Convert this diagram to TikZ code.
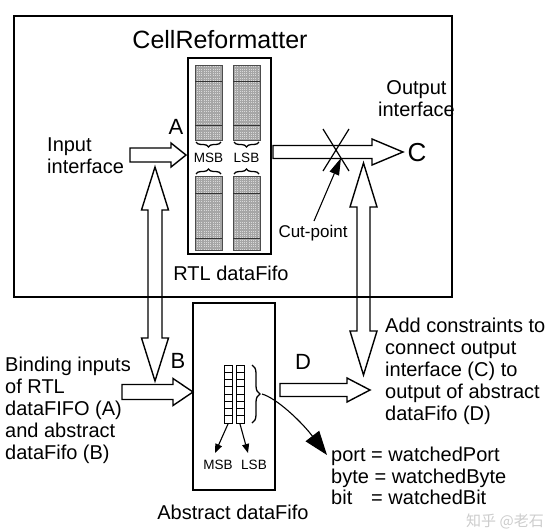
\documentclass[tikz,border=0pt]{standalone}
\usepackage{fontspec}
\setmainfont{Liberation Sans}
\newfontfamily\cjk{Noto Sans CJK SC}
\usetikzlibrary{arrows.meta,decorations.pathreplacing}

\newcommand\vdarrow[6]{% x ytop ybot shaft-half head-half head-len
  \draw[blk] (#1,#2) -- (#1+#5,#2+#6) -- (#1+#4,#2+#6) -- (#1+#4,#3-#6) -- (#1+#5,#3-#6) -- (#1,#3)
    -- (#1-#5,#3-#6) -- (#1-#4,#3-#6) -- (#1-#4,#2+#6) -- (#1-#5,#2+#6) -- cycle;}
\newcommand\rarrow[6]{% xstart xtip y shaft-half head-half head-len
  \draw[blk] (#1,#3-#4) -- (#2-#6,#3-#4) -- (#2-#6,#3-#5) -- (#2,#3) -- (#2-#6,#3+#5) -- (#2-#6,#3+#4) -- (#1,#3+#4) -- cycle;}
\newcommand\gridblock[4]{% x1 y1 x2 y2
  \fill[gray!30] (#1,#2) rectangle (#3,#4);
  \draw[gray!70, line width=0.2pt, step=1.8pt] (#1,#2) grid (#3,#4);
  \draw[gray!60!black, line width=0.6pt] (#1,#2) rectangle (#3,#4);}

\begin{document}
\begin{tikzpicture}[x=1pt,y=-1pt,
  blk/.style={draw, line width=1.4pt, line join=miter},
  txt/.style={font=\fontsize{20}{22}\selectfont, inner sep=0pt, align=left},
  letter/.style={font=\fontsize{22}{24}\selectfont, inner sep=0pt},
  small/.style={font=\fontsize{13.5}{15}\selectfont, inner sep=0pt},
  thickbox/.style={draw, line width=2.4pt},
  brc/.style={draw, line width=1.3pt, decorate},
  ptr/.style={draw, line width=1.1pt}]
\useasboundingbox (0,0) rectangle (558,531);

% outer CellReformatter box
\draw[line width=1.2pt] (14,16) rectangle (452,297);
\node[font=\fontsize{25}{27}\selectfont, inner sep=0pt] (title) at (220,40) {CellReformatter};

% RTL dataFifo
\draw[thickbox] (188,58) rectangle (271,254);
\gridblock{195}{65}{222}{140}
\gridblock{233}{65}{260}{140}
\gridblock{195}{176}{222}{250}
\gridblock{233}{176}{260}{250}
\foreach \yy in {81,125,193,238} {
  \draw[gray!40!black, line width=0.45pt] (195,\yy) -- (222,\yy);
  \draw[gray!40!black, line width=0.45pt] (233,\yy) -- (260,\yy);}
\draw[brc, decoration={brace, amplitude=5pt, mirror}] (196,142) -- (221,142);
\draw[brc, decoration={brace, amplitude=5pt, mirror}] (234,142) -- (259,142);
\draw[brc, decoration={brace, amplitude=5pt}] (196,174) -- (221,174);
\draw[brc, decoration={brace, amplitude=5pt}] (234,174) -- (259,174);
\node[small] (msbt) at (208.5,158) {MSB};
\node[small] (lsbt) at (246.5,158) {LSB};
\node[txt] (rtl) at (231,273) {RTL dataFifo};

\node[letter] (A) at (176,127) {A};
\node[txt, anchor=north west] (inp) at (47,138) {Input\\interface};
\rarrow{130}{186}{155}{7}{12}{15}

\node[txt, anchor=north, align=center] (outp) at (416.5,80) {Output\\interface};
\rarrow{273}{403}{152}{6.5}{13}{31}
\node[font=\fontsize{26}{28}\selectfont, inner sep=0pt] (C) at (417,153) {C};

% cut point
\coordinate (x1) at (323,129); \coordinate (x2) at (349,171);
\coordinate (x3) at (349,129); \coordinate (x4) at (323,171);
\draw[line width=1.2pt] (x1) -- (x2);
\draw[line width=1.2pt] (x3) -- (x4);
\node[font=\fontsize{17}{19}\selectfont, inner sep=0pt] (cut) at (313,233) {Cut-point};
\coordinate (cutstart) at (314,221);
\coordinate (cuttip) at (341,158);
\draw[ptr, -{Triangle[length=17pt,width=10pt]}] (cutstart) -- (cuttip);

% vertical double arrows
\vdarrow{155}{167}{381}{7}{13.5}{43}
\vdarrow{363.5}{163}{375}{6.5}{13.5}{44}

% abstract dataFifo
\draw[thickbox] (193,303) rectangle (275,490);
\foreach \i in {0,...,7} {
  \draw[line width=0.9pt] (224,365+7.25*\i) rectangle (232,365+7.25*\i+7.25);
  \draw[line width=0.9pt] (236,365+7.25*\i) rectangle (244,365+7.25*\i+7.25);}
\draw[brc, decoration={brace, amplitude=8pt}] (252,365) -- (252,423);
\coordinate (bracetip) at (262,394);
\coordinate (portpt) at (327,455);
\draw[ptr, -{Triangle[length=24pt,width=17pt]}] (bracetip) .. controls (276,398) and (300,420) .. (portpt);

\coordinate (msbs) at (228,424); \coordinate (msbe) at (215,453);
\coordinate (lsbs) at (240,424); \coordinate (lsbe) at (248,453);
\draw[ptr, -{Triangle[length=9pt,width=7pt]}] (msbs) -- (msbe);
\draw[ptr, -{Triangle[length=9pt,width=7pt]}] (lsbs) -- (lsbe);
\node[small] (msbb) at (218,465) {MSB};
\node[small] (lsbb) at (254,465) {LSB};
\node[txt] (abs) at (233,512) {Abstract dataFifo};

\node[letter] (B) at (178,361) {B};
\node[txt, anchor=north west] (bind) at (5,357) {Binding inputs\\of RTL\\dataFIFO (A)\\and abstract\\dataFifo (B)};
\rarrow{122}{193}{392}{7.5}{13.5}{20}

\node[letter] (D) at (303,362) {D};
\rarrow{280}{370}{390}{6.5}{12}{23}
\node[txt, anchor=north west] (add) at (385,318) {Add constraints to\\connect output\\interface (C) to\\output of abstract\\dataFifo (D)};

\node[txt, anchor=north west, font=\fontsize{20}{21.5}\selectfont] (port) at (331,447)
  {port = watchedPort\\byte = watchedByte\\\rlap{bit}\phantom{port} = watchedBit};

\node[inner sep=0pt, text=gray!40, font=\cjk\fontsize{15}{17}\selectfont] (wm) at (505,521) {知乎 @老石};
\end{tikzpicture}
\end{document}
